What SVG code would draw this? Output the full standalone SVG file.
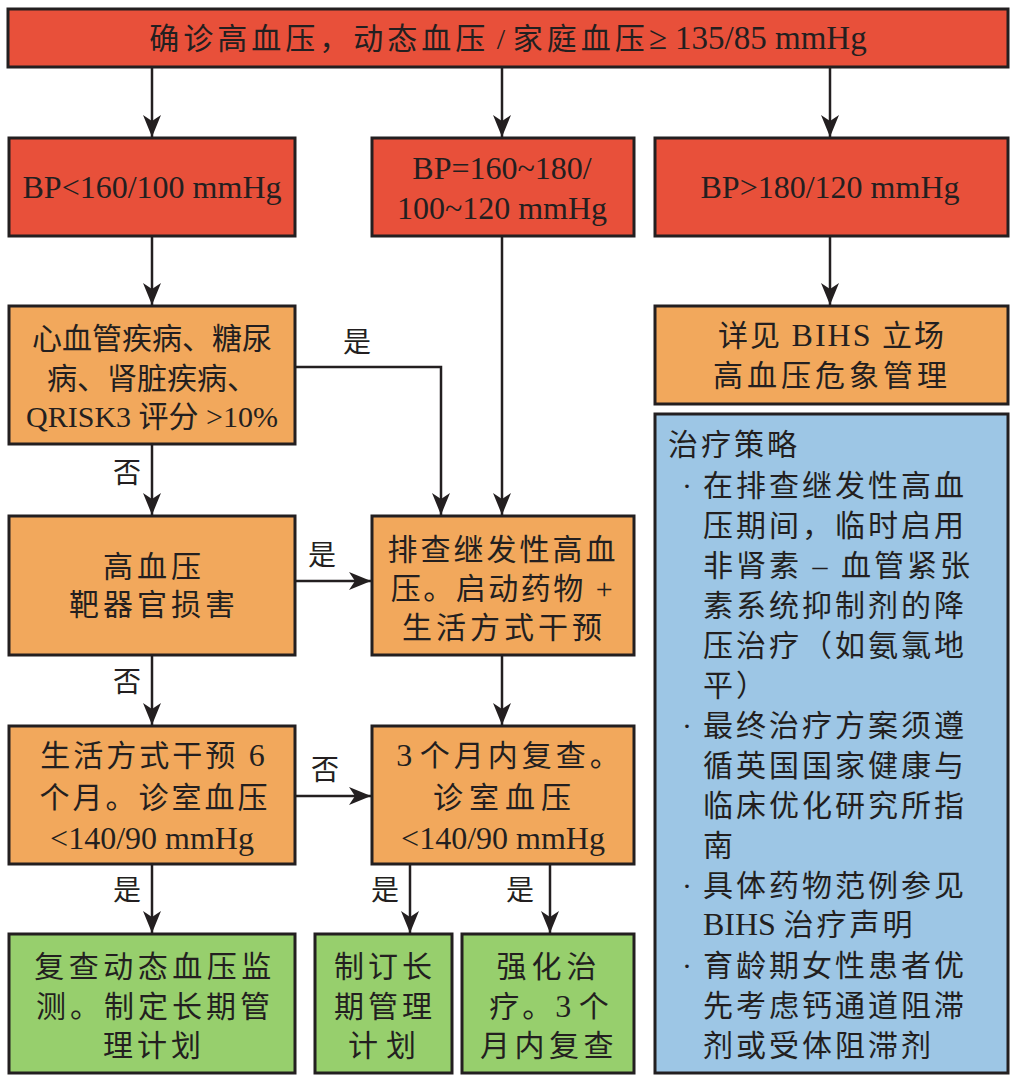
<svg xmlns="http://www.w3.org/2000/svg" width="1019" height="1081" viewBox="0 0 1019 1081">
<style>
.box{stroke:#231f20;stroke-width:3}
.red{fill:#e8503a}.org{fill:#f2a85c}.grn{fill:#97cf6d}.blu{fill:#9dc6e5}
text{font-family:"Liberation Serif","Noto Sans CJK SC",serif;font-size:30px;fill:#231f20}
.c{text-anchor:middle}
.lat{font-size:32px}
.lbl{font-size:28px;text-anchor:middle}
.bl{letter-spacing:3px}
.ln{stroke:#231f20;stroke-width:2.5;fill:none}
</style>
<defs>
<marker id="ah" viewBox="0 0 22 18" refX="22" refY="9" markerWidth="22" markerHeight="18" markerUnits="userSpaceOnUse" orient="auto">
<path d="M0,0 L22,9 L0,18 L6,9 Z" fill="#231f20"/>
</marker>
</defs>
<rect width="1019" height="1081" fill="#fff"/>
<g id="connectors">
<line class="ln" x1="152" y1="67" x2="152" y2="137" marker-end="url(#ah)"/>
<line class="ln" x1="502" y1="67" x2="502" y2="137" marker-end="url(#ah)"/>
<line class="ln" x1="830" y1="67" x2="830" y2="137" marker-end="url(#ah)"/>
<line class="ln" x1="152" y1="236" x2="152" y2="305" marker-end="url(#ah)"/>
<line class="ln" x1="830" y1="236" x2="830" y2="305" marker-end="url(#ah)"/>
<line class="ln" x1="502" y1="236" x2="502" y2="515" marker-end="url(#ah)"/>
<polyline class="ln" points="295,367 441,367 441,515" marker-end="url(#ah)"/>
<line class="ln" x1="152" y1="444" x2="152" y2="515" marker-end="url(#ah)"/>
<line class="ln" x1="295" y1="581" x2="371" y2="581" marker-end="url(#ah)"/>
<line class="ln" x1="152" y1="655" x2="152" y2="725" marker-end="url(#ah)"/>
<line class="ln" x1="502" y1="655" x2="502" y2="725" marker-end="url(#ah)"/>
<line class="ln" x1="295" y1="796" x2="371" y2="796" marker-end="url(#ah)"/>
<line class="ln" x1="152" y1="864" x2="152" y2="933" marker-end="url(#ah)"/>
<line class="ln" x1="410" y1="864" x2="410" y2="933" marker-end="url(#ah)"/>
<line class="ln" x1="550" y1="864" x2="550" y2="933" marker-end="url(#ah)"/>
<text class="lbl" x="357" y="352">是</text>
<text class="lbl" x="127" y="483">否</text>
<text class="lbl" x="322" y="565">是</text>
<text class="lbl" x="127" y="692">否</text>
<text class="lbl" x="325" y="780">否</text>
<text class="lbl" x="127" y="900">是</text>
<text class="lbl" x="385" y="900">是</text>
<text class="lbl" x="520" y="900">是</text>
</g>
<g id="top">
<rect class="box red" x="8" y="9" width="1000" height="58"/>
<text class="c" x="508" y="49"><tspan letter-spacing="4">确诊高血压，动态血压</tspan> / <tspan letter-spacing="4">家庭血压</tspan><tspan font-size="33">≥ 135/85 mmHg</tspan></text>
</g>
<g id="bp1">
<rect class="box red" x="9" y="138" width="286" height="98"/>
<text class="c lat" x="152" y="198">BP&lt;160/100 mmHg</text>
</g>
<g id="bp2">
<rect class="box red" x="372" y="138" width="262" height="98"/>
<text class="c lat" x="502" y="179" font-size="33">BP=160~180/</text>
<text class="c lat" x="502" y="219">100~120 mmHg</text>
</g>
<g id="bp3">
<rect class="box red" x="655" y="138" width="353" height="98"/>
<text class="c lat" x="830" y="198">BP&gt;180/120 mmHg</text>
</g>
<g id="cvd">
<rect class="box org" x="9" y="306" width="286" height="138"/>
<text class="c" x="152" y="349">心血管疾病、糖尿</text>
<text class="c" x="152" y="389">病、肾脏疾病、</text>
<text class="c" x="152" y="427">QRISK3 评分 &gt;10%</text>
</g>
<g id="bihs">
<rect class="box org" x="655" y="306" width="353" height="98"/>
<text class="c" x="832" y="346" letter-spacing="2">详见 <tspan font-size="32">BIHS</tspan> 立场</text>
<text class="c" x="832" y="386" letter-spacing="4">高血压危象管理</text>
</g>
<g id="strategy">
<rect class="box blu" x="655" y="414" width="353" height="659"/>
<text class="bl" x="668" y="455">治疗策略</text>
<text x="682" y="496">·</text>
<text class="bl" x="703" y="496">在排查继发性高血</text>
<text class="bl" x="703" y="536">压期间，临时启用</text>
<text class="bl" x="703" y="576">非肾素 – 血管紧张</text>
<text class="bl" x="703" y="616">素系统抑制剂的降</text>
<text class="bl" x="703" y="656">压治疗（如氨氯地</text>
<text class="bl" x="703" y="696">平）</text>
<text x="682" y="736">·</text>
<text class="bl" x="703" y="736">最终治疗方案须遵</text>
<text class="bl" x="703" y="776">循英国国家健康与</text>
<text class="bl" x="703" y="816">临床优化研究所指</text>
<text class="bl" x="703" y="856">南</text>
<text x="682" y="896">·</text>
<text class="bl" x="703" y="896">具体药物范例参见</text>
<text x="703" y="935"><tspan font-size="32">BIHS</tspan> <tspan letter-spacing="3">治疗声明</tspan></text>
<text x="682" y="976">·</text>
<text class="bl" x="703" y="976">育龄期女性患者优</text>
<text class="bl" x="703" y="1016">先考虑钙通道阻滞</text>
<text class="bl" x="703" y="1056">剂或受体阻滞剂</text>
</g>
<g id="tod">
<rect class="box org" x="9" y="516" width="286" height="139"/>
<text class="c" x="154" y="577" letter-spacing="4">高血压</text>
<text class="c" x="154" y="615" letter-spacing="4">靶器官损害</text>
</g>
<g id="secondary">
<rect class="box org" x="372" y="516" width="262" height="139"/>
<text class="c" x="503" y="560" letter-spacing="3">排查继发性高血</text>
<text class="c" x="503" y="599" letter-spacing="2.5">压。启动药物 +</text>
<text class="c" x="504" y="638" letter-spacing="4">生活方式干预</text>
</g>
<g id="lifestyle">
<rect class="box org" x="9" y="726" width="286" height="138"/>
<text class="c" x="154" y="766" letter-spacing="3">生活方式干预 <tspan font-size="32">6</tspan></text>
<text class="c" x="155" y="808" letter-spacing="3">个月。诊室血压</text>
<text class="c lat" x="152" y="849">&lt;140/90 mmHg</text>
</g>
<g id="recheck">
<rect class="box org" x="372" y="726" width="262" height="138"/>
<text class="c" x="510" y="766"><tspan font-size="32">3</tspan> <tspan letter-spacing="4">个月内复查。</tspan></text>
<text class="c" x="505" y="808" letter-spacing="6">诊室血压</text>
<text class="c lat" x="503" y="849">&lt;140/90 mmHg</text>
</g>
<g id="abpm">
<rect class="box grn" x="9" y="934" width="286" height="139"/>
<text class="c" x="155" y="977" letter-spacing="4.5">复查动态血压监</text>
<text class="c" x="155" y="1017" letter-spacing="4">测。制定长期管</text>
<text class="c" x="154" y="1056" letter-spacing="4">理计划</text>
</g>
<g id="plan">
<rect class="box grn" x="315" y="934" width="137" height="139"/>
<text class="c" x="385" y="977" letter-spacing="4">制订长</text>
<text class="c" x="385" y="1017" letter-spacing="4">期管理</text>
<text class="c" x="386" y="1056" letter-spacing="8">计划</text>
</g>
<g id="intensify">
<rect class="box grn" x="462" y="934" width="172" height="139"/>
<text class="c" x="549" y="977" letter-spacing="5">强化治</text>
<text class="c" x="549" y="1017"><tspan letter-spacing="3">疗。</tspan><tspan font-size="32">3</tspan> 个</text>
<text class="c" x="549" y="1056" letter-spacing="4.5">月内复查</text>
</g>
</svg>
